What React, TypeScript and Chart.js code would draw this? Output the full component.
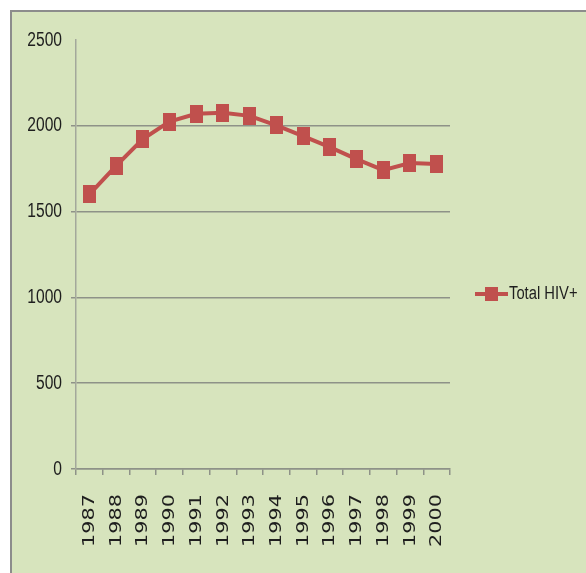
import React, { useEffect, useRef } from "react";
import { Chart, registerables } from "chart.js";

Chart.register(...registerables);

const years = ["1987", "1988", "1989", "1990", "1991", "1992", "1993", "1994", "1995", "1996", "1997", "1998", "1999", "2000"];
const totalHiv = [1600, 1767, 1923, 2025, 2070, 2076, 2058, 2003, 1940, 1876, 1806, 1742, 1783, 1777];
const seriesName = "Total HIV+";
const yMin = 0;
const yMax = 2500;
const yStep = 500;

const RED = "#C0504D";
const GRID = "#8e9288";
const TEXT = "#1e1e1e";
const SANS = "'Liberation Sans', Arial, sans-serif";

export default function App() {
  const ref = useRef<HTMLCanvasElement | null>(null);

  useEffect(() => {
    if (!ref.current) return;
    const marker = document.createElement("canvas");
    marker.width = 13;
    marker.height = 18;
    const mctx = marker.getContext("2d")!;
    mctx.fillStyle = RED;
    mctx.fillRect(0, 0, 13, 18);

    const overlay = {
      id: "overlay",
      afterDraw(chart: any) {
        const ctx = chart.ctx;
        const xs = chart.scales.x;
        const ys = chart.scales.y;
        const labels = chart.data.labels as string[];
        ctx.save();
        ctx.fillStyle = TEXT;
        // x labels (rotated, stretched)
        ctx.font = "16px 'DejaVu Sans', sans-serif";
        ctx.textAlign = "right";
        ctx.textBaseline = "middle";
        labels.forEach((lab, i) => {
          const x = xs.getPixelForTick(i);
          ctx.save();
          ctx.translate(x + 0.5, xs.top + 25);
          ctx.rotate(-Math.PI / 2);
          ctx.scale(1.3, 1);
          ctx.fillText(lab, 0, 0);
          ctx.restore();
        });
        // y labels (condensed)
        ctx.font = "20px " + SANS;
        ctx.textAlign = "right";
        ctx.textBaseline = "middle";
        ys.ticks.forEach((t: any) => {
          const y = ys.getPixelForValue(t.value);
          ctx.save();
          ctx.translate(ys.right - 14, y);
          ctx.scale(0.78, 1);
          ctx.fillText(String(t.value), 0, 0);
          ctx.restore();
        });
        // legend
        const ly = 294;
        ctx.strokeStyle = RED;
        ctx.lineWidth = 4;
        ctx.beginPath();
        ctx.moveTo(475, ly);
        ctx.lineTo(508, ly);
        ctx.stroke();
        ctx.fillStyle = RED;
        ctx.fillRect(485, ly - 7, 13, 14);
        ctx.fillStyle = TEXT;
        ctx.font = "18px " + SANS;
        ctx.textAlign = "left";
        ctx.textBaseline = "middle";
        ctx.save();
        ctx.translate(509, ly);
        ctx.scale(0.82, 1);
        ctx.fillText(chart.data.datasets[0].label, 0, 0);
        ctx.restore();
        ctx.restore();
      },
    };

    const chart = new Chart(ref.current, {
      type: "line",
      data: {
        labels: years,
        datasets: [
          {
            label: seriesName,
            data: totalHiv,
            borderColor: RED,
            backgroundColor: RED,
            borderWidth: 4,
            tension: 0,
            pointStyle: marker as any,
            pointRadius: 9,
            pointHoverRadius: 9,
          },
        ],
      },
      options: {
        responsive: false,
        animation: false,
        devicePixelRatio: 1,
        layout: { padding: { top: 40, right: 136, bottom: 0, left: 0 } },
        plugins: { legend: { display: false }, tooltip: { enabled: false } },
        scales: {
          x: {
            type: "category",
            offset: true,
            grid: {
              offset: true,
              drawOnChartArea: false,
              drawTicks: true,
              tickLength: 6,
              color: GRID,
              lineWidth: 1.5,
            },
            border: { display: true, color: GRID, width: 1.5 },
            ticks: { display: false },
            afterFit: (s: any) => {
              s.height = 104;
            },
          },
          y: {
            min: yMin,
            max: yMax,
            ticks: { stepSize: yStep, display: false },
            grid: {
              color: (c: any) => (c.tick && c.tick.value === yMax ? "rgba(0,0,0,0)" : GRID),
              lineWidth: 1.5,
              drawTicks: true,
              tickLength: 5,
            },
            border: { display: true, color: "#a3a89b", width: 1.5 },
            afterFit: (s: any) => {
              s.width = 76;
            },
          },
        },
      },
      plugins: [overlay],
    });
    return () => chart.destroy();
  }, []);

  return (
    <div style={{ position: "fixed", left: 0, top: 0, width: 586, height: 573, background: "#ffffff", overflow: "hidden" }}>
      <div
        style={{
          position: "absolute",
          left: 10,
          top: 10,
          width: 576,
          height: 563,
          boxSizing: "border-box",
          background: "#D7E4BD",
          borderLeft: "2px solid #8c8c8c",
          borderTop: "2px solid #8c8c8c",
        }}
      />
      <canvas ref={ref} width={586} height={573} style={{ position: "absolute", left: 0, top: 0 }} />
    </div>
  );
}
